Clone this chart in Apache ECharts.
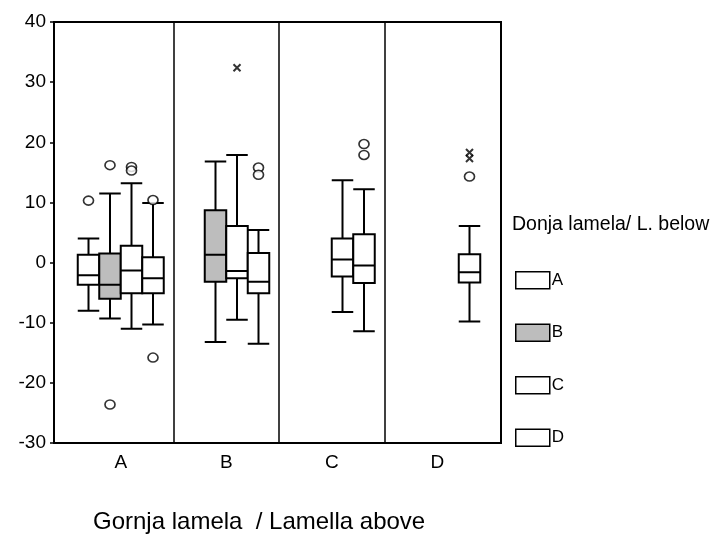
<!DOCTYPE html>
<html>
<head>
<meta charset="utf-8">
<script src="https://cdn.jsdelivr.net/npm/echarts@6/dist/echarts.min.js"></script>
<style>
  html, body { margin: 0; background: #fff; }
  #chart { width: 712px; height: 535px; }
</style>
</head>
<body>
<div id="chart"></div>
<script>
// upper lamella groups on the x axis
var categories = ['A', 'B', 'C', 'D'];
// lower lamella series, one box per group: [min, Q1, median, Q3, max], null = no box
var boxA = [[-8.0, -3.7, -2.1, 1.3, 4.0], null, null, null];
var boxB = [[-9.3, -6.0, -3.7, 1.5, 11.5], [-13.2, -3.2, 1.3, 8.7, 16.8], null, null];
var boxC = [[-11.0, -5.1, -1.3, 2.8, 13.2], [-9.5, -2.6, -1.4, 6.1, 17.9], [-8.2, -2.3, 0.5, 4.0, 13.7], null];
var boxD = [[-10.3, -5.1, -2.6, 0.9, 9.9], [-13.5, -5.1, -3.2, 1.6, 5.4], [-11.4, -3.4, -0.5, 4.7, 12.2], [-9.8, -3.3, -1.6, 1.4, 6.1]];
// outliers (circles) and extremes (crosses): [group index, value]
var outA = [[0, 10.3]];
var outB = [[0, 16.2], [0, -23.6]];
var outC = [[0, 15.9], [0, 15.3]];
var outD = [[0, 10.4], [0, -15.8], [1, 15.8], [1, 14.6], [2, 19.7], [2, 17.9], [3, 14.3]];
var extC = [[1, 32.4]];
var extD = [[3, 18.3], [3, 17.3]];
// y axis ticks
var yMin = -30, yMax = 40, yStep = 10;
// group separators (between bands)
var separators = [1, 2, 3];

var FONT = 'Liberation Sans, Arial, sans-serif';
var chart = echarts.init(document.getElementById('chart'));

var boxes = [boxA, boxB, boxC, boxD];
var outs = [outA, outB, outC, outD];
var exts = [[], [], extC, extD];
var fills = ['#ffffff', '#bdbdbd', '#ffffff', '#ffffff'];
var slotW = 21.5;

var grids = [
  { left: 54, right: 211, top: 22, bottom: 92, show: true, borderColor: '#000', borderWidth: 2 },
  { left: 68, right: 222, top: 22, bottom: 92 }
];
var xAxes = [
  { gridIndex: 0, type: 'value', min: -0.133, max: 4.104, show: false },
  {
    gridIndex: 1, type: 'category', data: categories, boundaryGap: true,
    axisLine: { show: false },
    axisTick: { alignWithLabel: true, length: 3, lineStyle: { color: '#000', width: 1.5 } },
    axisLabel: { color: '#000', fontSize: 19, fontFamily: FONT, margin: 10 }
  }
];
var yAxes = [
  {
    gridIndex: 0, type: 'value', min: yMin, max: yMax, interval: yStep,
    axisLine: { show: true, onZero: false, lineStyle: { color: '#000', width: 2 } },
    axisTick: { show: true, length: 4, lineStyle: { color: '#000', width: 1.5 } },
    axisLabel: { color: '#000', fontSize: 19, fontFamily: FONT, margin: 8 },
    splitLine: { show: false }
  },
  { gridIndex: 1, type: 'value', min: yMin, max: yMax, show: false }
];
var series = [
  {
    name: 'sep', type: 'scatter', xAxisIndex: 0, yAxisIndex: 0, data: [], silent: true,
    markLine: {
      silent: true, symbol: 'none', label: { show: false },
      lineStyle: { color: '#000', width: 1.5, type: 'solid' },
      data: separators.map(function (v) { return { xAxis: v }; })
    }
  }
];

for (var k = 0; k < 4; k++) {
  var off = (k - 1.5) * slotW;
  var gi = grids.length;
  grids.push({ left: 68 + off, right: 222 - off, top: 22, bottom: 92 });
  xAxes.push({ gridIndex: gi, type: 'category', data: categories, boundaryGap: true, show: false });
  yAxes.push({ gridIndex: gi, type: 'value', min: yMin, max: yMax, show: false });
  series.push({
    name: categories[k], type: 'boxplot', xAxisIndex: gi, yAxisIndex: gi,
    boxWidth: [slotW, slotW],
    itemStyle: { color: fills[k], borderColor: '#000', borderWidth: 2 },
    data: boxes[k].map(function (b) { return b ? b : ['-', '-', '-', '-', '-']; }),
    z: 3
  });
  series.push({
    name: 'out' + k, type: 'scatter', xAxisIndex: gi, yAxisIndex: gi,
    symbol: 'circle', symbolSize: [10, 9],
    itemStyle: { color: '#fff', borderColor: '#000', borderWidth: 1.6 },
    data: outs[k], z: 4
  });
  if (exts[k].length) {
    series.push({
      name: 'ext' + k, type: 'scatter', xAxisIndex: gi, yAxisIndex: gi,
      symbol: 'path://M0,0L10,10M10,0L0,10', symbolSize: 7,
      itemStyle: { color: 'none', borderColor: '#000', borderWidth: 2 },
      data: exts[k], z: 4
    });
  }
}

chart.setOption({
  animation: false,
  backgroundColor: '#fff',
  title: [
    { text: 'Gornja lamela  / Lamella above', left: 93, top: 510, padding: 0,
      textStyle: { color: '#000', fontSize: 24, fontWeight: 'normal', fontFamily: FONT } },
    { text: 'Donja lamela/ L. below', left: 512, top: 215, padding: 0,
      textStyle: { color: '#000', fontSize: 19.5, fontWeight: 'normal', fontFamily: FONT } }
  ],
  legend: {
    data: categories.map(function (c, i) {
      return { name: c, itemStyle: { color: fills[i], borderColor: '#000', borderWidth: 1.5 } };
    }),
    orient: 'vertical', left: 515, top: 271, padding: 0,
    icon: 'rect', itemWidth: 34, itemHeight: 17, itemGap: 34,
    textStyle: { color: '#000', fontSize: 17, fontFamily: FONT, padding: [0, 0, 0, -3] }
  },
  grid: grids,
  xAxis: xAxes,
  yAxis: yAxes,
  series: series
});
</script>
</body>
</html>
